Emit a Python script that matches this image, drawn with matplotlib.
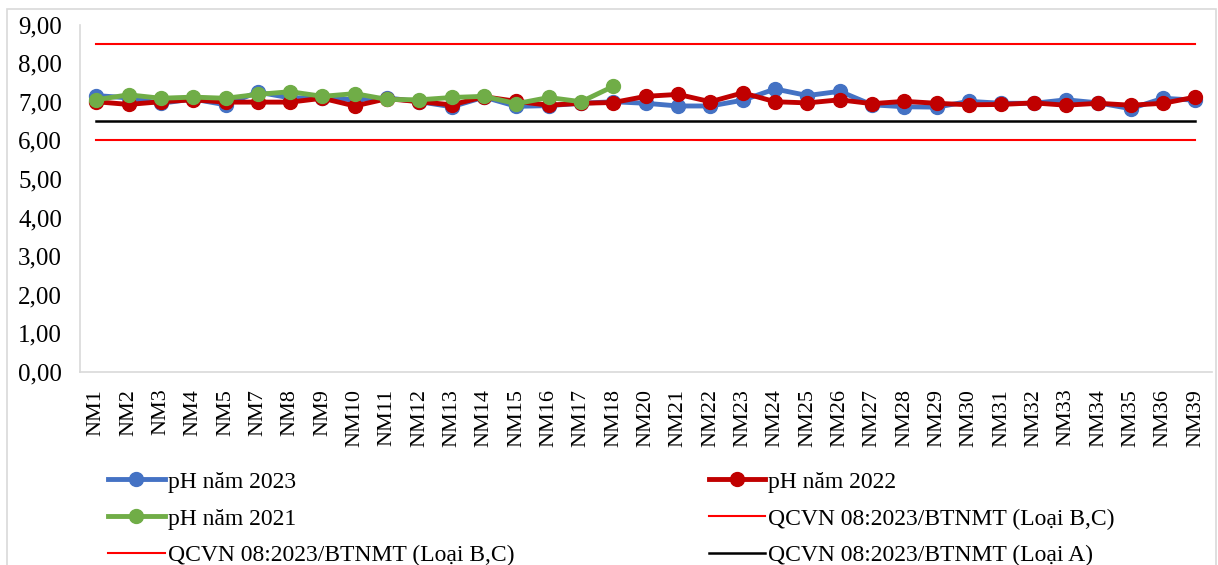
import matplotlib.pyplot as plt
from matplotlib.patches import Rectangle
from matplotlib.lines import Line2D
from matplotlib.ticker import FuncFormatter

plt.rcParams['font.family'] = ['Liberation Serif', 'DejaVu Serif']

stations = ['NM1', 'NM2', 'NM3', 'NM4', 'NM5', 'NM7', 'NM8', 'NM9', 'NM10', 'NM11',
            'NM12', 'NM13', 'NM14', 'NM15', 'NM16', 'NM17', 'NM18', 'NM20', 'NM21',
            'NM22', 'NM23', 'NM24', 'NM25', 'NM26', 'NM27', 'NM28', 'NM29', 'NM30',
            'NM31', 'NM32', 'NM33', 'NM34', 'NM35', 'NM36', 'NM39']

ph_2023 = [7.16, 7.10, 6.96, 7.07, 6.92, 7.25, 7.10, 7.10, 7.05, 7.10,
           7.00, 6.87, 7.12, 6.88, 6.90, 6.96, 7.00, 6.96, 6.89,
           6.89, 7.04, 7.33, 7.16, 7.27, 6.92, 6.87, 6.86, 7.01,
           6.96, 6.96, 7.05, 6.97, 6.82, 7.09, 7.04]
ph_2022 = [7.00, 6.93, 7.00, 7.05, 6.99, 6.99, 6.99, 7.09, 6.89, 7.08,
           7.00, 6.92, 7.13, 7.01, 6.91, 6.96, 6.98, 7.14, 7.19,
           7.00, 7.23, 7.00, 6.97, 7.05, 6.95, 7.01, 6.96, 6.92,
           6.93, 6.97, 6.91, 6.96, 6.91, 6.96, 7.12]
ph_2021 = [7.05, 7.18, 7.09, 7.12, 7.09, 7.19, 7.26, 7.14, 7.21, 7.06,
           7.05, 7.11, 7.14, 6.95, 7.11, 7.00, 7.40]

limit_bc_max = 8.5
limit_bc_min = 6.0
limit_a_min = 6.5

fig = plt.figure(figsize=(12.18, 5.65), dpi=100)
ax = fig.add_axes([0.0657, 0.3416, 0.929, 0.615])

x = list(range(len(stations)))
x21 = x[:len(ph_2021)]

ax.plot(x, [limit_bc_max] * len(x), color='#FF0000', lw=1.5, zorder=2)
ax.plot(x, [limit_bc_min] * len(x), color='#FF0000', lw=1.5, zorder=2)
ax.plot(x, [limit_a_min] * len(x), color='black', lw=1.8, zorder=2)

ax.plot(x, ph_2023, color='#4472C4', lw=3.5, marker='o', ms=10, zorder=3)
ax.plot(x, ph_2022, color='#C00000', lw=3.5, marker='o', ms=10, zorder=4)
ax.plot(x21, ph_2021, color='#70AD47', lw=3.5, marker='o', ms=10, zorder=5)

ax.set_xlim(-0.5, len(stations) - 0.5)
ax.set_ylim(0, 9)
ax.set_yticks([0, 1, 2, 3, 4, 5, 6, 7, 8, 9])
ax.yaxis.set_major_formatter(FuncFormatter(lambda v, p: f'{v:.2f}'.replace('.', ',')))
ax.set_xticks(x)
ax.set_xticklabels(stations, rotation=90)
ax.tick_params(axis='both', length=0, colors='black')
ax.tick_params(axis='y', labelsize=18, pad=13)
ax.tick_params(axis='x', labelsize=16, pad=12)

for s in ['top', 'right']:
    ax.spines[s].set_visible(False)
for s in ['left', 'bottom']:
    ax.spines[s].set_color('#D9D9D9')
    ax.spines[s].set_linewidth(1.2)

# chart frame
fig.patches.append(Rectangle((0.006, -0.01), 0.992, 0.994, transform=fig.transFigure,
                             fill=False, edgecolor='#D9D9D9', lw=1.2))

h23 = Line2D([], [], color='#4472C4', lw=3.5, marker='o', ms=10)
h22 = Line2D([], [], color='#C00000', lw=3.5, marker='o', ms=10)
h21 = Line2D([], [], color='#70AD47', lw=3.5, marker='o', ms=10)
hbc = Line2D([], [], color='#FF0000', lw=1.5)
ha = Line2D([], [], color='black', lw=1.8)

handles = [h23, h21, hbc, h22, hbc, ha]
labels = ['pH năm 2023', 'pH năm 2021', 'QCVN 08:2023/BTNMT (Loại B,C)',
          'pH năm 2022', 'QCVN 08:2023/BTNMT (Loại B,C)', 'QCVN 08:2023/BTNMT (Loại A)']
fig.legend(handles, labels, ncol=2, loc='upper left', bbox_to_anchor=(0.0887, 0.166),
           frameon=False, fontsize=17, handlelength=2.4, handletextpad=0.12,
           columnspacing=8.25, labelspacing=0.65, borderaxespad=0, borderpad=0)

fig.savefig('out.png', dpi=100)
